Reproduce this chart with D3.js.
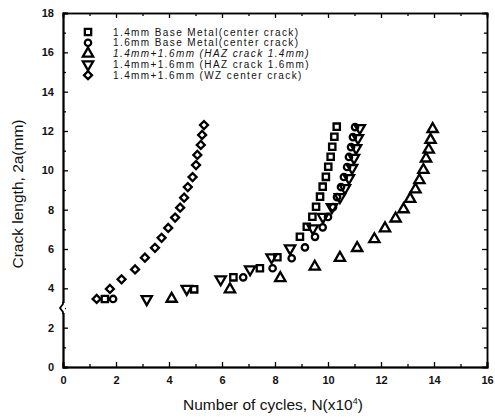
<!DOCTYPE html>
<html>
<head>
<meta charset="utf-8">
<script src="https://cdn.jsdelivr.net/npm/d3@7"></script>
<style>
body { margin: 0; background: #fff; }
svg text { font-family: "Liberation Sans", Arial, sans-serif; }
</style>
</head>
<body>
<svg id="plot" width="495" height="418"></svg>
<script>
let svg = d3.select("#plot")

// data: N in 10^4 cycles, 2a in mm
let bm14_n = [1.58, 4.95, 6.43, 7.43, 8.09, 8.94, 9.2, 9.41, 9.55, 9.7, 9.8, 9.92, 10.01, 10.1, 10.16, 10.24, 10.33]
let bm14_a = [3.46, 3.95, 4.56, 5.02, 5.58, 6.62, 7.13, 7.64, 8.15, 8.66, 9.17, 9.67, 10.18, 10.69, 11.2, 11.71, 12.22]

let bm16_n = [1.89, 6.8, 7.91, 8.63, 9.13, 9.51, 9.8, 10.0, 10.19, 10.34, 10.49, 10.6, 10.72, 10.79, 10.87, 10.94, 11.02]
let bm16_a = [3.46, 4.56, 5.02, 5.53, 6.08, 6.62, 7.1, 7.63, 8.13, 8.64, 9.15, 9.66, 10.17, 10.68, 11.18, 11.69, 12.2]

let haz14_n = [4.1, 6.3, 8.2, 9.5, 10.45, 11.1, 11.75, 12.15, 12.55, 12.85, 13.1, 13.3, 13.45, 13.6, 13.7, 13.8, 13.87, 13.95]
let haz14_a = [3.47, 3.95, 4.52, 5.1, 5.55, 6.05, 6.5, 7.05, 7.55, 8.02, 8.55, 9.03, 9.5, 10.02, 10.6, 11.05, 11.55, 12.1]

let haz16_n = [3.16, 4.67, 5.95, 7.06, 7.87, 8.57, 9.43, 9.81, 10.15, 10.45, 10.64, 10.79, 10.91, 10.98, 11.06, 11.13, 11.2]
let haz16_a = [3.45, 3.97, 4.46, 4.97, 5.58, 6.03, 7.05, 7.63, 8.13, 8.64, 9.1, 9.61, 10.12, 10.63, 11.13, 11.64, 12.15]

let wz_n = [1.27, 1.77, 2.21, 2.72, 3.09, 3.47, 3.72, 3.97, 4.23, 4.42, 4.57, 4.71, 4.89, 5.02, 5.07, 5.2, 5.25, 5.32]
let wz_a = [3.46, 3.97, 4.46, 4.96, 5.56, 6.06, 6.57, 7.07, 7.6, 8.1, 8.61, 9.15, 9.66, 10.27, 10.78, 11.29, 11.8, 12.3]

let labels = ["1.4mm Base Metal(center crack)", "1.6mm Base Metal(center crack)",
  "1.4mm+1.6mm (HAZ crack 1.4mm)", "1.4mm+1.6mm (HAZ crack 1.6mm)", "1.4mm+1.6mm (WZ center crack)"]
let xticks = [0, 2, 4, 6, 8, 10, 12, 14, 16]
let yticks = [0, 2, 4, 6, 8, 10, 12, 14, 16, 18]

let series = [
  {n: bm14_n, a: bm14_a, shape: "square"},
  {n: bm16_n, a: bm16_a, shape: "circle"},
  {n: haz14_n, a: haz14_a, shape: "up"},
  {n: haz16_n, a: haz16_a, shape: "down"},
  {n: wz_n, a: wz_a, shape: "diamond"}
]

let margin_left = 63, margin_top = 13, plot_w = 424, plot_h = 354

let x_scale = d3.scaleLinear([0, 16], [margin_left, margin_left + plot_w])
let y_scale = d3.scaleLinear([0, 18], [margin_top + plot_h, margin_top])

// marker shapes
function markerPath(shape) {
  if (shape == "square") return d3.symbol(d3.symbolSquare, 40)()
  if (shape == "circle") return d3.symbol(d3.symbolCircle, 32)()
  if (shape == "up") return d3.symbol(d3.symbolTriangle, 46)()
  if (shape == "down") return d3.symbol(d3.symbolTriangle, 46)()
  return d3.symbol(d3.symbolSquare, 32)()
}
function markerRot(shape) {
  if (shape == "down") return 180
  if (shape == "diamond") return 45
  return 0
}

// frame
let gx_bot = svg.append("g").attr("transform", `translate(0,${margin_top + plot_h})`)
  .call(d3.axisBottom(x_scale).tickValues(xticks).tickSize(-5).tickPadding(9).tickFormat(d3.format("d")))
let gx_top = svg.append("g").attr("transform", `translate(0,${margin_top})`)
  .call(d3.axisTop(x_scale).tickValues(xticks).tickSize(-5).tickFormat(""))
let gx_bot_m = svg.append("g").attr("transform", `translate(0,${margin_top + plot_h})`)
  .call(d3.axisBottom(x_scale).tickValues(d3.range(1, 16, 2)).tickSize(-3).tickFormat(""))
let gx_top_m = svg.append("g").attr("transform", `translate(0,${margin_top})`)
  .call(d3.axisTop(x_scale).tickValues(d3.range(1, 16, 2)).tickSize(-3).tickFormat(""))

let gy_left = svg.append("g").attr("transform", `translate(${margin_left},0)`)
  .call(d3.axisLeft(y_scale).tickValues(yticks).tickSize(-5).tickPadding(9).tickFormat(d3.format("d")))
let gy_right = svg.append("g").attr("transform", `translate(${margin_left + plot_w},0)`)
  .call(d3.axisRight(y_scale).tickValues(yticks).tickSize(-5).tickFormat(""))
let gy_left_m = svg.append("g").attr("transform", `translate(${margin_left},0)`)
  .call(d3.axisLeft(y_scale).tickValues(d3.range(1, 18, 2)).tickSize(-3).tickFormat(""))
let gy_right_m = svg.append("g").attr("transform", `translate(${margin_left + plot_w},0)`)
  .call(d3.axisRight(y_scale).tickValues(d3.range(1, 18, 2)).tickSize(-3).tickFormat(""))

svg.selectAll(".domain").attr("stroke", "#000").attr("stroke-width", 1.5)
svg.selectAll(".tick line").attr("stroke", "#000").attr("stroke-width", 1.3)
svg.selectAll(".tick text").attr("font-size", 11).attr("font-weight", "bold").attr("fill", "#111")
  .attr("font-family", "Liberation Sans, Arial, sans-serif")
gx_bot.select(".domain").attr("stroke-width", 2)
gy_left.select(".domain").attr("stroke-width", 2)

// axis break at 2a = 3
let yb = y_scale(3)
svg.append("rect").attr("x", margin_left - 2).attr("y", yb - 5).attr("width", 4).attr("height", 10).attr("fill", "#fff")
svg.append("path")
  .attr("d", `M${margin_left},${yb - 6} L${margin_left},${yb - 4} L${margin_left - 3},${yb} L${margin_left},${yb + 4} L${margin_left},${yb + 6}`)
  .attr("fill", "none").attr("stroke", "#000").attr("stroke-width", 1.8)

// points
series.forEach(s => {
  svg.append("g").selectAll("path")
    .data(d3.range(s.n.length))
    .join("path")
    .attr("d", markerPath(s.shape))
    .attr("transform", i => `translate(${x_scale(s.n[i])},${y_scale(s.a[i])}) rotate(${markerRot(s.shape)})`)
    .attr("fill", "none")
    .attr("stroke", "#000")
    .attr("stroke-width", 2.3)
})

// legend
let leg = svg.append("g")
series.forEach((s, i) => {
  let yy = 32 + i * 10.8
  leg.append("path")
    .attr("d", markerPath(s.shape))
    .attr("transform", `translate(88,${yy}) rotate(${markerRot(s.shape)})`)
    .attr("fill", "none").attr("stroke", "#000").attr("stroke-width", 2.3)
  leg.append("text")
    .attr("x", 113).attr("y", yy + 3.5)
    .attr("font-size", 10)
    .attr("letter-spacing", 1.4)
    .attr("font-style", i == 2 ? "italic" : "normal")
    .attr("fill", "#111")
    .text(labels[i])
})

// axis titles
let x_lab = svg.append("text")
  .attr("text-anchor", "middle")
  .attr("x", margin_left + plot_w / 2 - 2).attr("y", 410)
  .attr("font-size", 15.5).attr("fill", "#111")
x_lab.append("tspan").text("Number of cycles, N(x10")
x_lab.append("tspan").attr("font-size", 9).attr("dy", -6).text("4")
x_lab.append("tspan").attr("dy", 6).text(")")

svg.append("text")
  .attr("text-anchor", "middle")
  .attr("transform", `translate(23,${margin_top + plot_h / 2 + 4}) rotate(-90)`)
  .attr("font-size", 15.5).attr("fill", "#111")
  .text("Crack length, 2a(mm)")
</script>
</body>
</html>
